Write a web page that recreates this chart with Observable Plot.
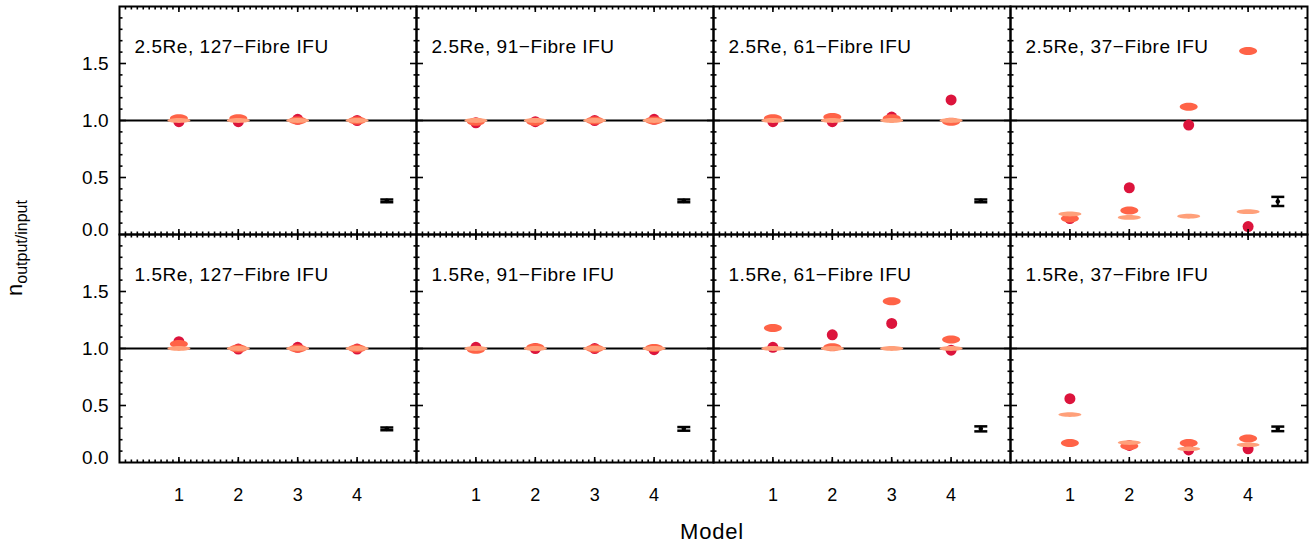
<!DOCTYPE html>
<html><head><meta charset="utf-8">
<script src="https://cdn.jsdelivr.net/npm/d3@7"></script>
<script src="https://cdn.jsdelivr.net/npm/@observablehq/plot@0.6"></script>
<style>
html,body{margin:0;padding:0;background:#fff;}
#chart{width:1311px;height:548px;}
</style></head><body><div id="chart"></div>
<script>
// ---------- data ----------
const models = [1, 2, 3, 4];
const fibres = ["127", "91", "61", "37"];
const radii = ["2.5Re", "1.5Re"];
const titles25 = ["2.5Re, 127−Fibre IFU", "2.5Re, 91−Fibre IFU", "2.5Re, 61−Fibre IFU", "2.5Re, 37−Fibre IFU"];
const titles15 = ["1.5Re, 127−Fibre IFU", "1.5Re, 91−Fibre IFU", "1.5Re, 61−Fibre IFU", "1.5Re, 37−Fibre IFU"];
const yTickValues = [0.5, 1.0, 1.5];
const yZeroTick = [0];
const yMinorTicks = [0.1,0.2,0.3,0.4,0.6,0.7,0.8,0.9,1.1,1.2,1.3,1.4,1.6,1.7,1.8,1.9];
const xTickValues = [1, 2, 3, 4];
const xMinorTicks = d3.range(1, 50).map(i => i / 10);
const xLabel = "Model";

// rows = fibre bundle (127, 91, 61, 37), columns = model 1..4
const circle25 = [
  [0.99, 0.99, 1.01, 1.00],
  [0.98, 0.99, 1.00, 1.01],
  [0.99, 0.99, 1.03, 1.18],
  [0.14, 0.41, 0.96, 0.07]
];
const oval25 = [
  [1.02, 1.02, 1.00, 1.00],
  [0.99, 0.99, 1.00, 1.00],
  [1.02, 1.03, 1.02, 0.99],
  [0.14, 0.21, 1.12, 1.61]
];
const flat25 = [
  [1.00, 1.00, 1.00, 1.00],
  [1.00, 1.00, 1.00, 1.00],
  [1.00, 1.00, 1.00, 1.00],
  [0.18, 0.15, 0.16, 0.20]
];
const circle15 = [
  [1.06, 0.995, 1.01, 0.995],
  [1.01, 1.00, 1.00, 0.99],
  [1.01, 1.12, 1.22, 0.985],
  [0.56, 0.15, 0.11, 0.12]
];
const oval15 = [
  [1.04, 1.00, 1.00, 1.00],
  [0.99, 1.01, 1.00, 1.005],
  [1.18, 1.01, 1.415, 1.08],
  [0.17, 0.145, 0.17, 0.21]
];
const flat15 = [
  [1.00, 1.00, 1.00, 1.00],
  [1.00, 1.00, 1.00, 1.00],
  [1.00, 1.00, 1.00, 1.00],
  [0.42, 0.175, 0.12, 0.155]
];
const errModel = 4.5;
const errCentre25 = [0.295, 0.295, 0.295, 0.29];
const errHalf25 = [0.012, 0.012, 0.012, 0.04];
const errCentre15 = [0.295, 0.295, 0.295, 0.295];
const errHalf15 = [0.012, 0.016, 0.022, 0.02];

// ---------- build tables ----------
function toRows(a25, a15) {
  const rows = [];
  [[radii[0], a25], [radii[1], a15]].forEach(([rad, arr]) => {
    fibres.forEach((f, i) => models.forEach((m, j) => rows.push({radius: rad, fibre: f, model: m, value: arr[i][j]})));
  });
  return rows;
}
const circleRows = toRows(circle25, circle15);
const ovalRows = toRows(oval25, oval15);
const flatRows = toRows(flat25, flat15);
const titleRows = [];
fibres.forEach((f, i) => {
  titleRows.push({radius: radii[0], fibre: f, title: titles25[i]});
  titleRows.push({radius: radii[1], fibre: f, title: titles15[i]});
});
const errRows = [];
fibres.forEach((f, i) => {
  errRows.push({radius: radii[0], fibre: f, model: errModel, c: errCentre25[i], e: errHalf25[i]});
  errRows.push({radius: radii[1], fibre: f, model: errModel, c: errCentre15[i], e: errHalf15[i]});
});
const capRows = errRows.flatMap(d => [{...d, v: d.c - d.e}, {...d, v: d.c + d.e}]);

// ---------- symbols ----------
function ellipseSymbol(rx, ry) {
  const k = 0.5522847498;
  return {draw(ctx) {
    ctx.moveTo(rx, 0);
    ctx.bezierCurveTo(rx, ry * k, rx * k, ry, 0, ry);
    ctx.bezierCurveTo(-rx * k, ry, -rx, ry * k, -rx, 0);
    ctx.bezierCurveTo(-rx, -ry * k, -rx * k, -ry, 0, -ry);
    ctx.bezierCurveTo(rx * k, -ry, rx, -ry * k, rx, 0);
    ctx.closePath();
  }};
}
const capSymbol = {draw(ctx) { ctx.moveTo(-6.5, 0); ctx.lineTo(6.5, 0); }};

const F = {fx: "fibre", fy: "radius"};
const font = "'Liberation Sans', Arial, Helvetica, sans-serif";

const plot = Plot.plot({
  width: 1311,
  height: 548,
  marginLeft: 118,
  marginRight: 4,
  marginTop: 5,
  marginBottom: 86,
  style: {fontFamily: font, fontSize: "18px", background: "white", color: "black"},
  fx: {domain: fibres, padding: 0, axis: null},
  fy: {domain: radii, padding: 0, axis: null},
  x: {domain: [0, 5]},
  y: {domain: [0, 2]},
  marks: [
    Plot.ruleY([1], {stroke: "black", strokeWidth: 2}),
    Plot.dot(circleRows, {...F, x: "model", y: "value", r: 5.5, fill: "#dc143c", stroke: "none"}),
    Plot.dot(ovalRows, {...F, x: "model", y: "value", symbol: ellipseSymbol(9, 4), fill: "#ff6347", stroke: "none"}),
    Plot.dot(flatRows, {...F, x: "model", y: "value", symbol: ellipseSymbol(11.5, 2.4), fill: "#ffa07a", stroke: "none"}),
    Plot.ruleX(errRows, {...F, x: "model", y1: d => d.c - d.e, y2: d => d.c + d.e, stroke: "black", strokeWidth: 2}),
    Plot.dot(capRows, {...F, x: "model", y: "v", symbol: capSymbol, stroke: "black", strokeWidth: 2.5, fill: "none"}),
    Plot.dot(errRows, {...F, x: "model", y: "c", r: 2.3, fill: "black", stroke: "none"}),
    Plot.text(titleRows, {...F, text: "title", frameAnchor: "top-left", textAnchor: "start", lineAnchor: "middle", dx: 15, dy: 40, fontSize: 19, fill: "black", className: "ptitle"}),
    // inward ticks on every panel side
    Plot.axisY(yTickValues, {anchor: "left", tickSize: -7, fill: "none", facetAnchor: null, strokeWidth: 1.6, label: null}),
    Plot.axisY(yTickValues, {anchor: "right", tickSize: -7, fill: "none", facetAnchor: null, strokeWidth: 1.6, label: null}),
    Plot.axisY(yMinorTicks, {anchor: "left", tickSize: -3.5, fill: "none", facetAnchor: null, strokeWidth: 1.6, label: null}),
    Plot.axisY(yMinorTicks, {anchor: "right", tickSize: -3.5, fill: "none", facetAnchor: null, strokeWidth: 1.6, label: null}),
    Plot.axisX(xTickValues, {anchor: "bottom", tickSize: -5, fill: "none", facetAnchor: null, strokeWidth: 1.6, label: null}),
    Plot.axisX(xTickValues, {anchor: "top", tickSize: -5, fill: "none", facetAnchor: null, strokeWidth: 1.6, label: null}),
    Plot.axisX(xMinorTicks, {anchor: "bottom", tickSize: -2.5, fill: "none", facetAnchor: null, strokeWidth: 1.6, label: null}),
    Plot.axisX(xMinorTicks, {anchor: "top", tickSize: -2.5, fill: "none", facetAnchor: null, strokeWidth: 1.6, label: null}),
    // labels
    Plot.axisY(yTickValues, {anchor: "left", tickSize: 0, tickPadding: 11, stroke: "none", tickFormat: d => d.toFixed(1), label: null, fontSize: 19}),
    Plot.axisY(yZeroTick, {anchor: "left", tickSize: 0, tickPadding: 11, stroke: "none", tickFormat: d => d.toFixed(1), label: null, fontSize: 19, dy: -5}),
    Plot.axisX(xTickValues, {anchor: "bottom", tickSize: 0, tickPadding: 26, stroke: "none", tickFormat: d => String(d), label: null, fontSize: 18}),
    Plot.frame({stroke: "black", strokeWidth: 2})
  ]
});
document.getElementById("chart").appendChild(plot);
d3.select(plot).selectAll("g.ptitle text").style("letter-spacing", "0.55px");

// axis titles
const svg = d3.select(plot);
svg.append("text")
  .attr("x", 712).attr("y", 539)
  .attr("text-anchor", "middle")
  .attr("font-family", font).attr("font-size", 22)
  .attr("letter-spacing", "0.8px")
  .attr("fill", "black")
  .text(xLabel);
const yt = svg.append("text")
  .attr("transform", "translate(22,248) rotate(-90)")
  .attr("text-anchor", "middle")
  .attr("font-family", font)
  .attr("fill", "black");
yt.append("tspan").attr("font-size", 22).text("n");
yt.append("tspan").attr("font-size", 16).attr("dy", 5).text("output/input");
</script>
</body></html>
